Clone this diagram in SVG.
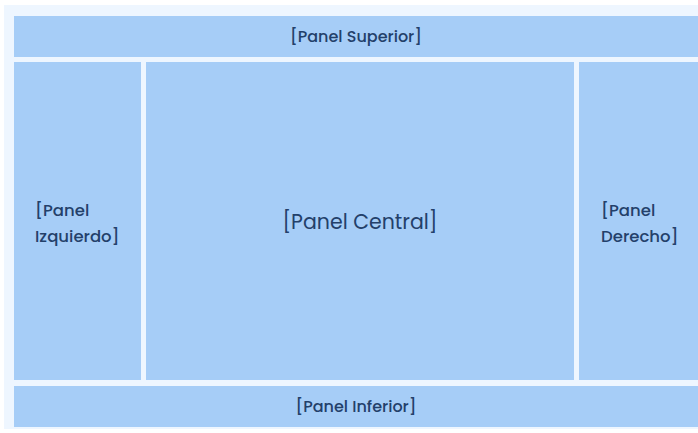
<svg xmlns="http://www.w3.org/2000/svg" width="698" height="433" viewBox="0 0 698 433">
<style>
.p{fill:#a6cdf7}
.t{font-family:Poppins,Inter,"Open Sans",sans-serif;fill:#23406a;font-weight:500}
.s{font-size:16px}
.m{font-size:16.5px}
.c{font-size:20.5px;font-weight:400}
</style>
<rect width="698" height="433" fill="#ffffff"/>
<rect x="4" y="5" width="694" height="424" fill="#eef6ff"/>
<g id="top"><rect class="p" x="14" y="16" width="684" height="41"/><text class="t s" x="356" y="42" text-anchor="middle">[Panel Superior]</text></g>
<g id="left"><rect class="p" x="14" y="62" width="127" height="318"/><text class="t m" x="35" y="216">[Panel</text><text class="t m" x="35" y="242">Izquierdo]</text></g>
<g id="center"><rect class="p" x="146" y="62" width="428" height="318"/><text class="t c" x="360" y="229" text-anchor="middle">[Panel Central]</text></g>
<g id="right"><rect class="p" x="579" y="62" width="119" height="318"/><text class="t m" x="601" y="216">[Panel</text><text class="t m" x="601" y="242">Derecho]</text></g>
<g id="bottom"><rect class="p" x="14" y="386" width="684" height="41"/><text class="t s" x="356" y="412" text-anchor="middle">[Panel Inferior]</text></g>
<g id="connectors"/>
</svg>
